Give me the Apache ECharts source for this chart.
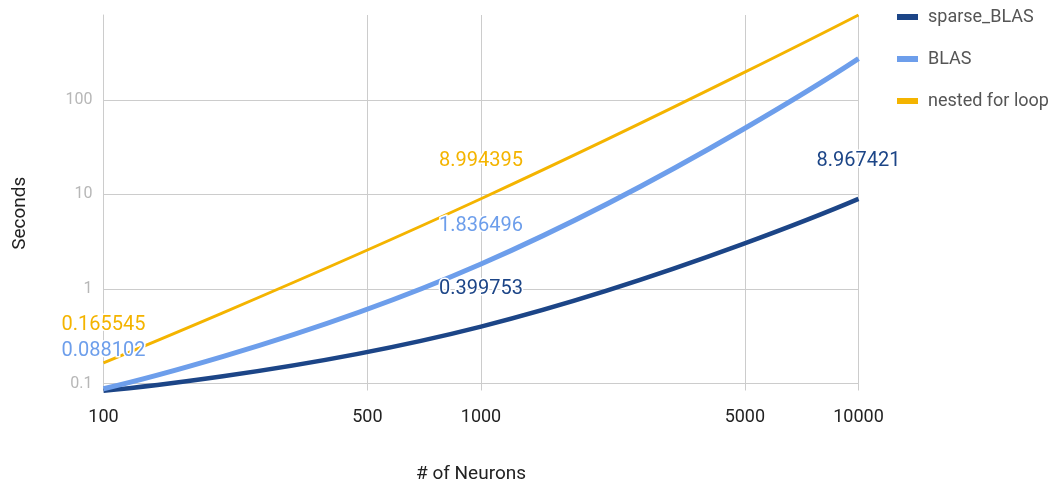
<!DOCTYPE html>
<html>
<head>
<meta charset="utf-8">
<script src="https://cdn.jsdelivr.net/npm/echarts@6/dist/echarts.min.js"></script>
<style>
html,body{margin:0;padding:0;background:#fff;}
#chart{width:1060px;height:484px;}
</style>
</head>
<body>
<div id="chart"></div>
<script>
const neurons = [100, 1000, 10000];
const sparseBLAS = [0.084, 0.399753, 8.967421];
const blas = [0.088102, 1.836496, 273];
const nestedLoop = [0.165545, 8.994395, 790];
const xTicks = [100, 500, 1000, 5000, 10000];
const yTicks = [0.1, 1, 10, 100];
const sparseLabelShown = [false, true, true];
const blasLabelShown = [true, true, false];
const nestedLabelShown = [true, true, false];

const FONT = 'Roboto';
function pts(vals, shown) {
  return neurons.map((x, i) => ({ value: [x, vals[i]], label: { show: shown[i] } }));
}
function labelStyle(color) {
  return {
    show: true, position: 'top', distance: 27, color: color,
    fontFamily: FONT, fontSize: 20,
    textBorderColor: '#fff', textBorderWidth: 3,
    formatter: p => String(p.value[1])
  };
}
function lineSeries(name, color, width, vals, shown) {
  return {
    name: name, type: 'line', smooth: true, clip: false,
    symbol: 'circle', symbolSize: 2, showSymbol: true, showAllSymbol: true,
    itemStyle: { color: 'rgba(0,0,0,0)', borderWidth: 0 },
    lineStyle: { width: width, color: color },
    emphasis: { disabled: true },
    labelLayout: { hideOverlap: false },
    label: labelStyle(color), data: pts(vals, shown)
  };
}
const chart = echarts.init(document.getElementById('chart'));
chart.setOption({
  animation: false,
  backgroundColor: '#fff',
  color: ['#1c4587', '#6d9eeb', '#f4b400'],
  grid: { left: 103.5, right: 201.5, top: 15, bottom: 100.5, containLabel: false, outerBoundsMode: 'none' },
  legend: {
    orient: 'vertical', left: 892, top: 3, itemWidth: 21, itemHeight: 6, itemGap: 24,
    icon: 'rect',
    textStyle: { fontFamily: FONT, fontSize: 18, color: '#555', padding: [0, 0, 0, 5] },
    data: [
      { name: 'sparse_BLAS', itemStyle: { color: '#1c4587' } },
      { name: 'BLAS', itemStyle: { color: '#6d9eeb' } },
      { name: 'nested for loop', itemStyle: { color: '#f4b400' } }
    ]
  },
  xAxis: {
    type: 'log', logBase: 10, min: 100, max: 10000,
    name: '# of Neurons', nameLocation: 'middle', nameGap: 81,
    nameTextStyle: { fontFamily: FONT, fontSize: 19, color: '#222', padding: [0, 20, 0, 0] },
    axisLine: { show: true, lineStyle: { color: '#cccccc', width: 1 } },
    axisTick: { show: true, length: 7, lineStyle: { color: '#cccccc' }, customValues: xTicks },
    axisLabel: { fontFamily: FONT, fontSize: 18, color: '#222', margin: 25, customValues: xTicks,
      formatter: v => String(Math.round(v)) },
    splitLine: { show: true, lineStyle: { color: '#cccccc', width: 1 } }
  },
  yAxis: {
    type: 'log', logBase: 10, min: 0.1, max: 790,
    name: 'Seconds', nameLocation: 'middle', nameGap: 74,
    nameTextStyle: { fontFamily: FONT, fontSize: 19, color: '#222', padding: [0, 28, 0, 0] },
    axisLine: { show: true, lineStyle: { color: '#cccccc', width: 1 } },
    axisTick: { show: false, customValues: yTicks },
    axisLabel: { fontFamily: FONT, fontSize: 16, color: '#b7b7b7', margin: 11, customValues: yTicks,
      formatter: v => String(v) },
    splitLine: { show: true, lineStyle: { color: '#cccccc', width: 1 } }
  },
  series: [
    lineSeries('sparse_BLAS', '#1c4587', 4.5, sparseBLAS, sparseLabelShown),
    lineSeries('BLAS', '#6d9eeb', 5, blas, blasLabelShown),
    lineSeries('nested for loop', '#f4b400', 3, nestedLoop, nestedLabelShown)
  ]
});
</script>
</body>
</html>
